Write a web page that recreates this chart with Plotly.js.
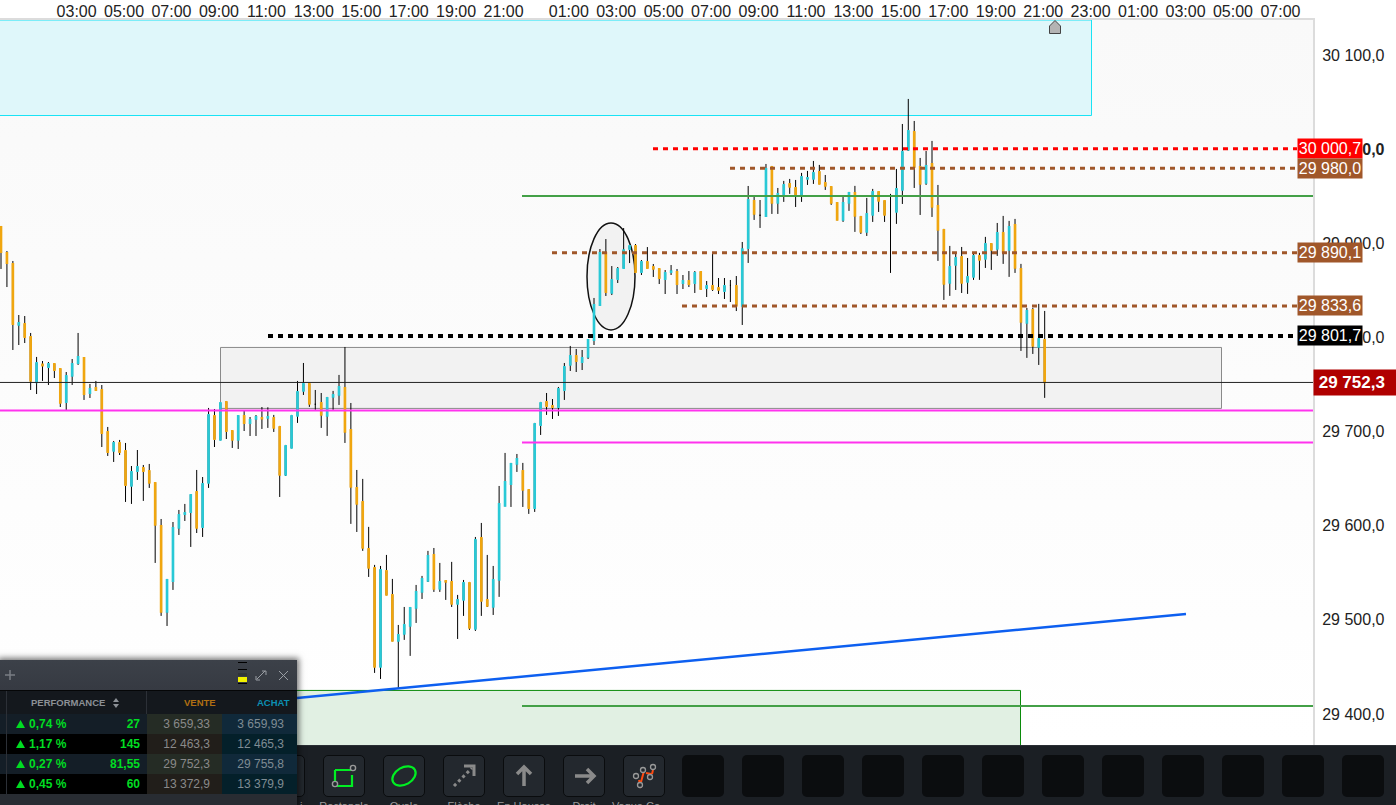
<!DOCTYPE html>
<html><head><meta charset="utf-8">
<script src="https://cdn.plot.ly/plotly-3.0.1.min.js"></script>
<style>
html,body{margin:0;padding:0;background:#fff;width:1396px;height:805px;overflow:hidden;font-family:"Liberation Sans",Arial,sans-serif}
#plotbg{position:absolute;left:0;top:20px;width:1313px;height:725px;background:linear-gradient(#f9f9f9,#ffffff)}
#chart{position:absolute;left:0;top:0;width:1396px;height:805px}
.ui{position:absolute}
#toolbar{left:0;top:745px;width:1396px;height:60px;background:#1b1f24;overflow:hidden;border-top:1px solid #2a2e34;box-sizing:border-box}
.btn{position:absolute;top:9px;width:42px;height:42px;border-radius:5px;background:#0b0d0f;box-sizing:border-box}
.btn.on{background:#23282e;border:1px solid #0a0c0e}
.btn svg{position:absolute;left:0;top:0}
.lbl{position:absolute;top:54px;width:90px;text-align:center;font-size:11px;color:#9a9a9a;white-space:nowrap}
#panel{left:0;top:660px;width:297px;height:145px;background:#282c32;box-shadow:0 0 6px 2px rgba(0,0,0,.55);color:#8a8a8a;font-size:12px;overflow:hidden}
#phead{position:absolute;left:0;top:0;width:297px;height:30px;background:linear-gradient(#3c4149,#363a42);border-bottom:1px solid #050607}
#pcols{position:absolute;left:0;top:31px;width:297px;height:23px;background:#14181d;border-bottom:1px solid #050607}
.row{position:absolute;left:0;width:297px;height:20px;line-height:20px}
.c{position:absolute;top:0;height:20px;white-space:nowrap}
.sep{position:absolute;width:1px;background:#2c3037}
.g{color:#00dd22;font-weight:bold}
</style></head><body>
<div id="plotbg"></div>
<div id="chart"></div>
<div id="toolbar" class="ui"></div>
<div id="panel" class="ui">
 <div id="phead">
  <svg width="297" height="30" style="position:absolute;left:0;top:0">
   <path d="M5 15H15M10 10V20" stroke="#7a7e84" stroke-width="1.5" fill="none"/>
   <rect x="238" y="2" width="9" height="1" fill="#000"/><rect x="238" y="9" width="9" height="1" fill="#000"/>
   <rect x="238" y="13" width="9" height="3" fill="#30343a"/>
   <rect x="238" y="17" width="9" height="5" fill="#f2f200"/><rect x="238" y="23" width="9" height="1" fill="#000"/>
   <path d="M257 19l8-8M262 11h4v4M256 16v4h4" stroke="#9a9ea4" stroke-width="1" fill="none"/>
   <path d="M279 11l9 9M288 11l-9 9" stroke="#9a9ea4" stroke-width="1" fill="none"/>
  </svg>
 </div>
 <div id="pcols">
  <div class="c" style="left:31px;top:6px;font-size:9.5px;font-weight:bold;color:#8c9096;height:auto">PERFORMANCE</div>
  <svg width="8" height="10" style="position:absolute;left:112px;top:7px"><path d="M4 0L7 4H1ZM4 10L7 6H1Z" fill="#8c9096"/></svg>
  <div class="c" style="left:184px;top:6px;font-size:9.5px;font-weight:bold;color:#b06f12;height:auto">VENTE</div>
  <div class="c" style="left:257px;top:6px;font-size:9.5px;font-weight:bold;color:#0c8fb2;height:auto">ACHAT</div>
 </div>
 <div id="prows"></div>
 <div class="sep" style="left:6px;top:31px;height:103px"></div>
 <div class="sep" style="left:146px;top:31px;height:23px"></div>
</div>
<svg class="ui" style="left:1047px;top:19px" width="18" height="16"><path d="M2.5 14.5V7L8 1.5L13.5 7V14.5Z" fill="#b4b4b4" stroke="#444" stroke-width="1"/></svg>
<script>
// 15-minute candles
const opens=[29917.5,29889.9,29878.2,29813.4,29814.4,29800.6,29752.4,29771.6,29768.7,29771.9,
29766.6,29731.5,29759.2,29773,29778.3,29741.1,29746.4,29744.3,29699.7,29679.5,
29688,29679.5,29642.3,29658.2,29661.4,29658.2,29645.5,29599.8,29508.4,29541.3,
29597.7,29612.5,29614.6,29635.9,29598.7,29645.5,29716.7,29691.2,29731.5,29700.7,
29691.2,29716.7,29709.2,29713.5,29714.5,29714.6,29714.6,29705,29654,29682.7,
29716.7,29743.3,29750.7,29729.1,29730.5,29716.7,29736.9,29739,29746.5,29701.8,
29640.2,29625.3,29575.4,29555.2,29450,29552,29526.5,29477.6,29485,29493.6,
29512.7,29529.7,29541.4,29569,29532.9,29541.4,29540.3,29516.9,29521.2,29539.2,
29490.4,29587,29521.2,29513.7,29542.4,29621.1,29644.4,29665.7,29658.3,29638.1,
29618.9,29707.1,29731.6,29727.3,29726.2,29744.3,29770.9,29780.4,29774,29779.4,
29797.4,29834.6,29889.9,29847.4,29862.2,29873.9,29894.1,29897.3,29869.7,29880.3,
29875,29872.9,29862.2,29869.7,29869.7,29858,29860.1,29858,29869.7,29852.7,
29854.8,29852.7,29849.5,29855.5,29854.8,29833.6,29895.2,29945.2,29930,29929.2,
29981.3,29943.1,29950.5,29963.3,29959,29950.5,29968.6,29968.6,29976,29964.3,
29960.1,29943.1,29925,29943.1,29953.7,29928.2,29912.3,29930.3,29954.8,29945.2,
29932.1,29933.5,29956.9,29999.4,30018.5,29981.3,29964.3,29984.5,29939.9,29914.4,
29858.1,29877.2,29885.7,29859.1,29864.5,29886.8,29883.6,29899.5,29894.2,29911.2,
29893.2,29919.7,29873,29815.6,29829.4,29790.1,29797.5];
const highs=[29918.6,29892,29881.4,29824,29822.9,29804.9,29779.4,29775.1,29774,29771.9,
29766.6,29763.4,29777.2,29804.9,29778.3,29750.7,29753.9,29749.6,29705,29690.1,
29691.2,29688,29663.5,29680.5,29664.6,29665.7,29645.5,29607.2,29543.5,29604,
29616.8,29623.2,29632.7,29659.3,29651.8,29725.2,29724.1,29730.5,29732.6,29700.7,
29717.7,29723,29715.6,29717.7,29726.2,29725.9,29717.8,29706.1,29685.9,29717.8,
29753.9,29773,29751.8,29744.3,29741.1,29736.9,29743.3,29760.3,29790,29730.5,
29659.3,29649.8,29598.8,29558.4,29557.3,29569,29543.5,29494.6,29513.7,29513.7,
29537.1,29546.7,29573.3,29576.4,29560.5,29541.4,29561.6,29526.5,29542.4,29540.3,
29588.1,29603,29569,29557.3,29642.3,29677.4,29666.8,29676.3,29666.8,29638.1,
29709.3,29731.6,29741.1,29734.7,29747.5,29773,29791.1,29787.9,29786.8,29798.5,
29842.1,29894.1,29904.7,29876,29875,29916.4,29897.3,29899.4,29882.4,29896.2,
29878.2,29872.9,29871.8,29877.1,29872.9,29866.5,29870.7,29870.7,29869.7,29860.1,
29888.8,29863.3,29863.3,29861.2,29865.4,29901.6,29961.1,29949.4,29946.2,29984.5,
29982.4,29959,29966.5,29968.6,29967.5,29975,29977.1,29987.7,29983.5,29972.8,
29960.1,29943.1,29949.5,29954.8,29961.2,29929.3,29948.4,29958,29954.8,29945.2,
29952.7,29979.2,30027,30053.6,30030.2,29990.9,29998.3,30009,29962.2,29915.5,
29897.4,29888.9,29896.3,29884.6,29888.9,29890,29907,29899.5,29921.8,29929.3,
29924,29926.1,29878.3,29831.5,29831.5,29835.8,29828.3];
const lows=[29872.9,29853.7,29786.8,29792.1,29794.2,29744.3,29740,29753.9,29749.6,29757,
29726.2,29723,29749.6,29770.9,29733.7,29735.8,29743.2,29683.7,29674.2,29667.8,
29675.2,29625.3,29623.2,29648.7,29626.4,29640.2,29560.5,29504.2,29493.5,29531.8,
29590.2,29605.1,29577.5,29592.3,29588.1,29640.2,29683.7,29691.2,29692.2,29682.7,
29681.6,29700.7,29695.4,29695.4,29702.9,29704,29699.7,29630.6,29652.9,29682.7,
29709.3,29739,29726.3,29723.1,29704,29695.5,29723.1,29728.4,29688,29602,
29593.4,29573.3,29545.6,29443.6,29437.2,29526.5,29477.6,29427.3,29478.7,29461.7,
29496.7,29522.2,29540.3,29529.7,29529.7,29521.2,29513.7,29479.7,29504.2,29489.3,
29488.2,29504.2,29513.7,29505.2,29524.4,29621.1,29620,29657.2,29620,29612.6,
29614.7,29696.5,29717.8,29713.5,29716.7,29733.7,29764.5,29763.4,29765.5,29777.2,
29792.1,29833.6,29844.2,29845.2,29858,29873.9,29879.2,29869.7,29866.5,29873.9,
29864.4,29856.9,29846.3,29866.5,29846.3,29851.6,29853.7,29847.4,29851.6,29843.1,
29849.5,29846.3,29841,29837.8,29828.2,29813.4,29879.3,29925,29916.5,29929.2,
29931.4,29931.4,29944.2,29952.7,29938.8,29944.2,29962.2,29963.3,29963.3,29956.9,
29941,29925,29922.9,29934.6,29912.3,29910.1,29908,29922.9,29933.5,29922.9,
29868.7,29920.8,29942,29998.3,29959,29930.3,29962.2,29928.2,29881.5,29840,
29844.3,29850.6,29847.4,29846.4,29861.3,29861.3,29874,29871.9,29886.8,29878.3,
29864.5,29868.7,29785.8,29778.4,29782.6,29770.9,29735.9];
const closes=[29890.9,29879.2,29814.4,29815.5,29800.6,29753.9,29773,29770.2,29771.9,29765.5,
29730.5,29759.2,29771.9,29779.4,29740,29745.4,29744.3,29698.6,29678.4,29688,
29678.4,29643.3,29657.2,29662.5,29658.2,29645.5,29600.9,29508.4,29542.4,29597.7,
29611.5,29613.6,29632.7,29597.7,29644.4,29717.7,29692.2,29730.5,29700.7,29691.2,
29716.7,29709.2,29712.4,29715.6,29713.8,29715.6,29704,29654,29684.8,29716.7,
29742.2,29750.7,29729.5,29729.1,29717.8,29735.8,29739,29747.5,29699.7,29641.3,
29623.2,29576.4,29555.2,29450,29553.1,29526.5,29477.6,29484,29494.6,29512.7,
29529.7,29543.5,29567.9,29532.9,29540.3,29540.3,29516.9,29521.2,29539.2,29491.4,
29584.9,29520.1,29514.8,29542.4,29623.2,29646.6,29665.7,29671,29638.1,29618.9,
29708.2,29730.5,29727.3,29726.2,29745.4,29768.7,29780.4,29775.1,29778.3,29797.4,
29834.6,29889.9,29848.4,29861.2,29872.9,29893,29897.3,29869.7,29880.3,29873.9,
29872.9,29863.3,29868.6,29870.7,29856.9,29860.1,29856.9,29868.6,29851.6,29854.8,
29851.6,29850.6,29854.8,29855.5,29833.6,29894.1,29946.2,29931.4,29930,29979.2,
29943.1,29952.6,29962.2,29960.1,29950.5,29970.7,29969.7,29975,29963.3,29961.2,
29943.1,29925,29943.1,29953.7,29929.3,29912.3,29931.4,29954.8,29945.2,29930.3,
29932.1,29958,29997.3,30019.6,29981.3,29963.3,29982.4,29938.8,29914.4,29857,
29875.1,29884.6,29858.1,29864.5,29886.8,29882.5,29899.5,29893.2,29911.2,29891,
29917.6,29874,29816.6,29828.3,29791.1,29798.6,29752.3];

const timeLabels=["03:00","05:00","07:00","09:00","11:00","13:00","15:00","17:00","19:00","21:00",
"01:00","03:00","05:00","07:00","09:00","11:00","13:00","15:00","17:00","19:00","21:00","23:00","01:00","03:00","05:00","07:00"];
const timeSlots=[12.75,20.75,28.75,36.75,44.75,52.75,60.75,68.75,76.75,84.75,
95.75,103.75,111.75,119.75,127.75,135.75,143.75,151.75,159.75,167.75,175.75,183.75,191.75,199.75,207.75,215.75];
const priceTicks=[30100,30000,29900,29800,29700,29600,29500,29400];
const priceLabels=["30 100,0","<b>30 000,0</b>","29 900,0","29 800,0","29 700,0","29 600,0","29 500,0","29 400,0"];

function domainSlot(px){return (px-1)/5.93;}
const redLevel=[30000.7,domainSlot(653)];
const brownLevels=[[29980.0,domainSlot(730)],[29890.1,domainSlot(552)],[29833.6,domainSlot(682)]];
const blackLevel=[29801.7,domainSlot(268)];
const tagLabels=[["30 000,7",30000.7,"#ff0000"],["29 980,0",29980.0,"#a0572a"],["29 890,1",29890.1,"#a0572a"],["29 833,6",29833.6,"#a0572a"],["29 801,7",29801.7,"#000000"]];
const lastPrice=29752.3;
const priceRange=[29367,30137.5];
const slotRange=[domainSlot(0),domainSlot(1313)];
const solidEnd=slotRange[1];

const idx=opens.map((_,i)=>i);
const bodyKeep=idx.filter(i=>opens[i]!==closes[i]);
const TEAL="#29c9d6",ORANGE="#f0a60f";
const traces=[
 {type:"candlestick",x:idx,open:opens,high:highs,low:lows,close:closes,whiskerwidth:0,hoverinfo:"skip",showlegend:false,
  increasing:{line:{color:"#000",width:1},fillcolor:"#000"},decreasing:{line:{color:"#000",width:1},fillcolor:"#000"}},
 {type:"candlestick",x:bodyKeep,
  open:bodyKeep.map(i=>opens[i]),close:bodyKeep.map(i=>closes[i]),
  high:bodyKeep.map(i=>Math.max(opens[i],closes[i])),low:bodyKeep.map(i=>Math.min(opens[i],closes[i])),
  whiskerwidth:0,hoverinfo:"skip",showlegend:false,
  increasing:{line:{color:TEAL,width:1.8},fillcolor:TEAL},decreasing:{line:{color:ORANGE,width:1.8},fillcolor:ORANGE}}
];
function hline(y,x0,color,width,dash,layer){return {type:"line",xref:"x",yref:"y",x0:x0,x1:solidEnd,y0:y,y1:y,layer:layer||"above",line:{color:color,width:width,dash:dash||"solid"}};}
function seg(y,x0,color,width){return {type:"line",xref:"x",yref:"y",x0:x0,x1:domainSlot(1297),y0:y,y1:y,layer:"above",line:{color:color,width:width,dash:"5px,5px"}};}
const shapes=[
 {type:"rect",xref:"x",yref:"y",x0:-5,x1:domainSlot(1091.5),y0:30036,y1:priceRange[1],layer:"below",fillcolor:"#dff7fa",line:{color:"#19e3f5",width:1}},
 {type:"rect",xref:"x",yref:"y",x0:domainSlot(220.5),x1:domainSlot(1221.5),y0:29724.7,y1:29789.5,layer:"below",fillcolor:"#f2f2f2",line:{color:"#8a8a8a",width:1}},
 {type:"circle",xref:"x",yref:"y",x0:domainSlot(587),x1:domainSlot(635),y0:29808.1,y1:29921.8,layer:"below",fillcolor:"#f2f2f2",line:{color:"#111",width:1.5}},
 {type:"rect",xref:"x",yref:"y",x0:domainSlot(250),x1:domainSlot(1020.5),y0:29360,y1:29425,layer:"below",fillcolor:"#e1f0e3",line:{color:"#0a8a0a",width:1}},
 hline(29950.5,domainSlot(522),"#43a047",2),
 hline(29408.5,domainSlot(522),"#43a047",2),
 hline(29722.5,-5,"#ff33ee",2),
 hline(29688.5,domainSlot(522),"#ff33ee",2),
 hline(lastPrice,-5,"#222",1),
 seg(redLevel[0],redLevel[1],"#ff0000",3),
 ...brownLevels.map(b=>seg(b[0],b[1],"#a0572a",3)),
 seg(blackLevel[0],blackLevel[1],"#000",4),
 {type:"line",xref:"x",yref:"y",x0:domainSlot(297),x1:domainSlot(1186),y0:29417,y1:29506.3,layer:"above",line:{color:"#0d5ff0",width:2.5}}
];
const annotations=tagLabels.map(t=>({xref:"paper",yref:"y",x:1297/1313,y:t[1],xanchor:"left",yanchor:"middle",showarrow:false,
  text:t[0],font:{family:"Liberation Sans",size:16,color:"#fff"},bgcolor:t[2],borderpad:0,width:64,height:19,align:"center"}));
annotations.push({xref:"paper",yref:"y",x:1,y:lastPrice,xanchor:"left",yanchor:"middle",showarrow:false,
  text:"<b>&nbsp;29 752,3</b>",font:{family:"Liberation Sans",size:17,color:"#fff"},bgcolor:"#b00000",borderpad:0,width:83,height:25,align:"left"});

const layout={width:1396,height:805,margin:{l:0,r:83,t:20,b:60},paper_bgcolor:"rgba(0,0,0,0)",plot_bgcolor:"rgba(0,0,0,0)",showlegend:false,
 boxgap:0.8,dragmode:false,
 font:{family:"Liberation Sans",size:16,color:"#222"},
 xaxis:{type:"linear",side:"top",range:slotRange,tickmode:"array",tickvals:timeSlots,ticktext:timeLabels,showgrid:false,zeroline:false,ticks:"",
   showline:true,linecolor:"#dcdcdc",linewidth:2,tickangle:0,rangeslider:{visible:false},ticklabelstandoff:-5,tickfont:{size:16,color:"#222"},fixedrange:true},
 yaxis:{side:"right",range:priceRange,tickmode:"array",tickvals:priceTicks,ticktext:priceLabels,showgrid:false,zeroline:false,ticks:"",
   showline:true,linecolor:"#dcdcdc",linewidth:2,ticklabelstandoff:4,tickfont:{size:16,color:"#222"},fixedrange:true},
 shapes,annotations};
Plotly.newPlot("chart",traces,layout,{displayModeBar:false,staticPlot:true});

// interface chrome around the chart
const tb=document.getElementById("toolbar");
const emptyBtn=[682,742,802,862,922,982,1042,1102,1162,1222,1282,1342];
emptyBtn.forEach(x=>{const d=document.createElement("div");d.className="btn";d.style.left=x+"px";tb.appendChild(d);});
const tools=[
 [263,"",'',0],
 [323,"Rectangle",'<path d="M11 14H28M11 14V30H28V19" stroke="#00ee22" stroke-width="2.2" fill="none"/><circle cx="29" cy="12" r="2.6" fill="#23282e" stroke="#999" stroke-width="1.4"/><circle cx="11" cy="28" r="2.6" fill="#23282e" stroke="#999" stroke-width="1.4"/>',0],
 [383,"Ovale",'<ellipse cx="20" cy="20" rx="12.5" ry="8.5" transform="rotate(-30 20 20)" fill="none" stroke="#00ee22" stroke-width="2.2"/>',0],
 [443,"Flèche",'<path d="M10 30L28 12" stroke="#8a8a8a" stroke-width="3" stroke-dasharray="3,3" fill="none"/><path d="M20 10H30V20" stroke="#8a8a8a" stroke-width="3" fill="none"/>',0],
 [503,"En Hausse",'<path d="M20 30V11M13 18L20 11L27 18" stroke="#8a8a8a" stroke-width="3.5" fill="none"/>',0],
 [563,"Droit",'<path d="M11 20H30M23 13L30 20L23 27" stroke="#8a8a8a" stroke-width="3.5" fill="none"/>',0],
 [623,"Vague Co",'<path d="M15 24L17 32M20 15L17 26M22 17L27 18M28 18L29 14" stroke="#ff4a10" stroke-width="2" fill="none"/><g fill="#23282e" stroke="#999" stroke-width="1.3"><circle cx="12" cy="20" r="2.5"/><circle cx="16" cy="29" r="2.5"/><circle cx="19" cy="14" r="2.5"/><circle cx="26" cy="21" r="2.5"/><circle cx="29" cy="11" r="2.5"/></g>',-8]
];
tools.forEach(t=>{
 const d=document.createElement("div");d.className="btn on";d.style.left=t[0]+"px";
 d.innerHTML='<svg width="40" height="40">'+t[2]+'</svg>';tb.appendChild(d);
 if(t[1]){const l=document.createElement("div");l.className="lbl";l.style.left=(t[0]+21-45+t[3])+"px";l.textContent=t[1];tb.appendChild(l);}
});
const tail=document.createElement("div");tail.className="lbl";tail.style.left="300px";tail.style.width="8px";tail.style.textAlign="left";tail.textContent="i";tb.appendChild(tail);

const perfPct=["0,74 %","1,17 %","0,27 %","0,45 %"];
const perfPts=["27","145","81,55","60"];
const sellVals=["3 659,33","12 463,3","29 752,3","13 372,9"];
const buyVals=["3 659,93","12 465,3","29 755,8","13 379,9"];
const rowsEl=document.getElementById("prows");
perfPct.forEach((p,i)=>{
 const odd=i%2===0;
 const top=54+i*20;
 rowsEl.insertAdjacentHTML("beforeend",
 `<div class="row" style="top:${top}px;background:${odd?'#141e27':'#000'}">
   <div class="c" style="left:147px;width:75px;background:${odd?'#252c25':'#211e1a'}"></div>
   <div class="c" style="left:222px;width:75px;background:${odd?'#10293a':'#04202a'}"></div>
   <svg width="10" height="10" style="position:absolute;left:16px;top:6px"><path d="M4.5 0L9 8H0Z" fill="#00dd22"/></svg>
   <div class="c g" style="left:29px">${p}</div>
   <div class="c g" style="right:157px">${perfPts[i]}</div>
   <div class="c" style="right:87px">${sellVals[i]}</div>
   <div class="c" style="right:13px;color:#7f8c94">${buyVals[i]}</div>
  </div>`);
});
</script>
</body></html>
